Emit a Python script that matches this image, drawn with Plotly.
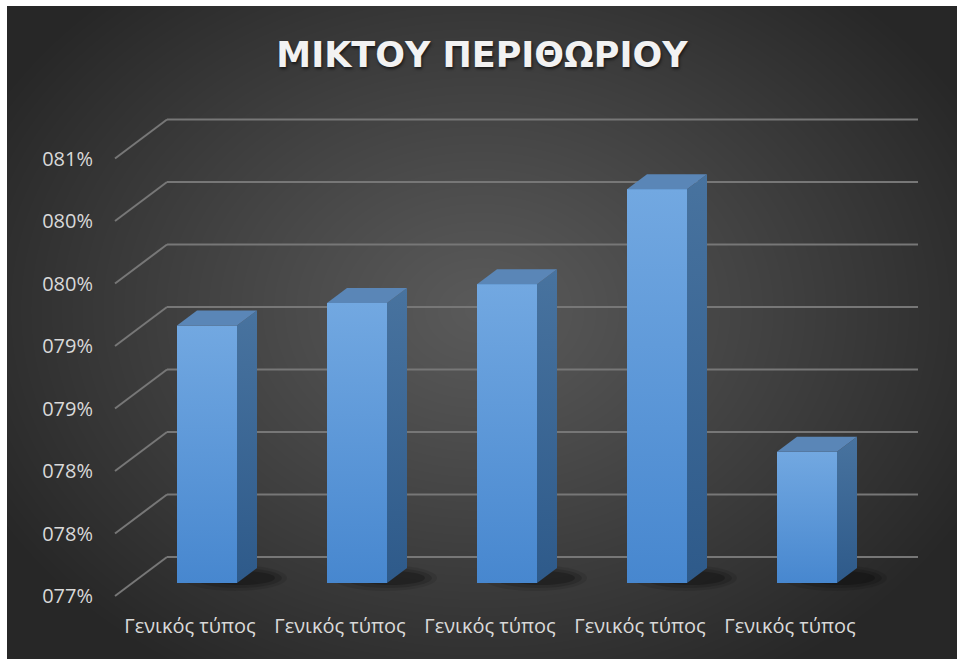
import base64
import struct
import zlib

import numpy as np
import plotly.graph_objects as go

# ---------------- data ----------------
TITLE = "ΜΙΚΤΟΥ ΠΕΡΙΘΩΡΙΟΥ"
CATEGORIES = ["Γενικός τύπος", "Γενικός τύπος", "Γενικός τύπος", "Γενικός τύπος", "Γενικός τύπος"]
VALUES = [79.06, 79.24, 79.39, 80.15, 78.05]          # percent
TICK_VALUES = [77.0, 77.5, 78.0, 78.5, 79.0, 79.5, 80.0, 80.5]
TICK_LABELS = ["077%", "078%", "078%", "079%", "079%", "080%", "080%", "081%"]
AXIS_MIN = 77.0

# ---------------- geometry (pixels) ----------------
W, H = 957, 659
PX_PER_CAT = 150.0
PX_PER_PCT = 125.0
X0_PX = 207.0          # centre of first bar front face
FLOOR_PX = 583.0       # bottom of bar front faces
BAR_W_PX = 60.0
DEPTH_DX_PX, DEPTH_DY_PX = 20.0, 15.0
BACK_UP_PX = 26.0      # back wall above bar front plane
FRONT_DOWN_PX = 13.0   # front floor edge below bar front plane
BACK_LEFT_PX, FRONT_LEFT_PX, RIGHT_PX = 167.0, 115.0, 918.0
LABEL_SHIFT_PX = -17.0


def dx(px):
    return px / PX_PER_CAT


def dy(px):
    return px / PX_PER_PCT


def xdata(px):
    return (px - X0_PX) / PX_PER_CAT


X_RANGE = [xdata(0), xdata(W)]
Y_RANGE = [AXIS_MIN - dy(H - FLOOR_PX), AXIS_MIN + dy(FLOOR_PX)]

# ---------------- background (radial gradient png) ----------------
def png_data_uri(arr):
    h, w, _ = arr.shape
    raw = b"".join(b"\x00" + arr[r].tobytes() for r in range(h))

    def chunk(tag, data):
        c = struct.pack(">I", len(data)) + tag + data
        return c + struct.pack(">I", zlib.crc32(tag + data) & 0xFFFFFFFF)

    png = b"\x89PNG\r\n\x1a\n"
    png += chunk(b"IHDR", struct.pack(">IIBBBBB", w, h, 8, 2, 0, 0, 0))
    png += chunk(b"IDAT", zlib.compress(raw, 9))
    png += chunk(b"IEND", b"")
    return "data:image/png;base64," + base64.b64encode(png).decode()


BG_X0, BG_Y0 = 7, 6
yy, xx = np.mgrid[0:H, 0:W].astype(float)
cx, cy = 480, 310
d = np.sqrt(((xx - cx) / 560.0) ** 2 + ((yy - cy) / 430.0) ** 2)
d = np.clip(d, 0, 1)
val = 0x5a - (0x5a - 0x27) * d ** 1.1
img = np.repeat(val[:, :, None], 3, axis=2).astype(np.uint8)
BG_URI = png_data_uri(img)

# ---------------- figure ----------------
FRONT = "#5e9cdb"
FRONT_TOP, FRONT_BOTTOM = "#72a8e1", "#4787cf"
TOP = "#5a86b7"
SIDE_TOP, SIDE_BOTTOM = "#48739f", "#2e5a8a"
GRID = "#777777"
LABEL = "#d9d9d9"
FONT = "Open Sans"

xs = list(range(len(VALUES)))
hw = dx(BAR_W_PX) / 2
DX, DY = dx(DEPTH_DX_PX), dy(DEPTH_DY_PX)

fig = go.Figure()

fig.add_trace(go.Bar(
    x=xs, y=[v - AXIS_MIN for v in VALUES], base=AXIS_MIN,
    width=2 * hw, marker=dict(color=FRONT, line=dict(width=0)),
    hoverinfo="skip", showlegend=False,
))

for i, v in zip(xs, VALUES):
    # front face shading (vertical gradient over the bar)
    fig.add_trace(go.Scatter(
        x=[i - hw, i + hw, i + hw, i - hw, i - hw],
        y=[AXIS_MIN, AXIS_MIN, v, v, AXIS_MIN],
        mode="lines", line=dict(width=0), fill="toself",
        fillcolor=FRONT,
        fillgradient=dict(type="vertical",
                          colorscale=[[0, FRONT_BOTTOM], [1, FRONT_TOP]]),
        hoverinfo="skip", showlegend=False,
    ))
    # side face
    fig.add_trace(go.Scatter(
        x=[i + hw, i + hw + DX, i + hw + DX, i + hw, i + hw],
        y=[AXIS_MIN, AXIS_MIN + DY, v + DY, v, AXIS_MIN],
        mode="lines", line=dict(width=0), fill="toself",
        fillcolor=SIDE_BOTTOM,
        fillgradient=dict(type="vertical",
                          colorscale=[[0, SIDE_BOTTOM], [1, SIDE_TOP]]),
        hoverinfo="skip", showlegend=False,
    ))
    # top face
    fig.add_trace(go.Scatter(
        x=[i - hw, i + hw, i + hw + DX, i - hw + DX, i - hw],
        y=[v, v, v + DY, v + DY, v],
        mode="lines", line=dict(width=0), fill="toself", fillcolor=TOP,
        hoverinfo="skip", showlegend=False,
    ))

# dummy trace for the label axes
fig.add_trace(go.Scatter(
    x=[0], y=[TICK_VALUES[0]], xaxis="x2", yaxis="y2", mode="markers",
    marker=dict(opacity=0), hoverinfo="skip", showlegend=False,
))

shapes = [
    # white frame at left / top edge of the picture
    dict(type="rect", xref="paper", yref="paper", layer="below",
         x0=0, x1=BG_X0 / W, y0=0, y1=1, fillcolor="white", line=dict(width=0)),
    dict(type="rect", xref="paper", yref="paper", layer="below",
         x0=0, x1=1, y0=1 - BG_Y0 / H, y1=1, fillcolor="white", line=dict(width=0)),
]
# perspective grid lines
for t in TICK_VALUES:
    yb = t + dy(BACK_UP_PX)
    yf = t - dy(FRONT_DOWN_PX)
    shapes.append(dict(type="line", xref="x", yref="y", layer="below",
                       x0=xdata(BACK_LEFT_PX), x1=xdata(RIGHT_PX), y0=yb, y1=yb,
                       line=dict(color=GRID, width=2)))
    shapes.append(dict(type="line", xref="x", yref="y", layer="below",
                       x0=xdata(FRONT_LEFT_PX), x1=xdata(BACK_LEFT_PX), y0=yf, y1=yb,
                       line=dict(color=GRID, width=2)))
# soft shadows under bars
for i in xs:
    for (ox, ex, ey, op) in [(28, 52, 13, 0.10), (31, 44, 10, 0.15), (34, 34, 7, 0.22)]:
        cxs = i + dx(ox)
        cys = AXIS_MIN + dy(5)
        shapes.append(dict(type="circle", xref="x", yref="y", layer="below",
                           x0=cxs - dx(ex), x1=cxs + dx(ex),
                           y0=cys - dy(ey), y1=cys + dy(ey),
                           fillcolor="black", opacity=op, line=dict(width=0)))

fig.update_layout(
    width=W, height=H,
    margin=dict(l=0, r=0, t=0, b=0),
    paper_bgcolor="#272727", plot_bgcolor="rgba(0,0,0,0)",
    shapes=shapes,
    images=[dict(source=BG_URI, xref="paper", yref="paper",
                 x=0, y=1, sizex=1, sizey=1,
                 xanchor="left", yanchor="top", sizing="stretch", layer="below")],
    title=dict(text=TITLE, x=482 / W, xanchor="center", y=1 - 55 / H, yanchor="middle",
               font=dict(family="DejaVu Sans", size=35, color="#f2f2f2", weight="bold",
                         shadow="1px 2px 3px rgba(0,0,0,0.6)")),
    xaxis=dict(range=X_RANGE, domain=[0, 1], visible=False, fixedrange=True),
    yaxis=dict(range=Y_RANGE, domain=[0, 1], visible=False, fixedrange=True),
    xaxis2=dict(overlaying="x", anchor="free", position=1 - 612 / H, side="bottom",
                range=[X_RANGE[0] - dx(LABEL_SHIFT_PX), X_RANGE[1] - dx(LABEL_SHIFT_PX)],
                tickvals=xs, ticktext=CATEGORIES, showgrid=False, zeroline=False,
                showline=False, ticks="", tickfont=dict(family=FONT, size=20, color=LABEL)),
    yaxis2=dict(overlaying="y", anchor="free", position=93 / W, side="left",
                range=[Y_RANGE[0] + dy(FRONT_DOWN_PX), Y_RANGE[1] + dy(FRONT_DOWN_PX)],
                tickvals=TICK_VALUES, ticktext=TICK_LABELS, showgrid=False, zeroline=False,
                showline=False, ticks="", tickfont=dict(family=FONT, size=20, color=LABEL)),
    bargap=0,
)

fig.write_html(
    "out.html",
    config={"displayModeBar": False, "staticPlot": True},
    post_script="document.body.style.margin='0';document.body.style.overflow='hidden';",
)
